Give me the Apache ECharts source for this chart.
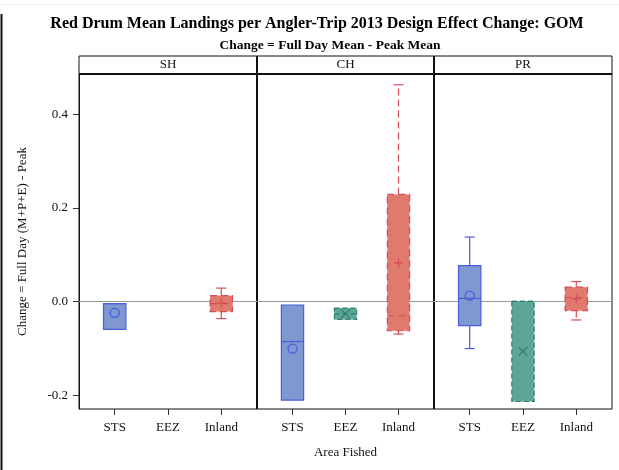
<!DOCTYPE html>
<html>
<head>
<meta charset="utf-8">
<script src="https://cdn.jsdelivr.net/npm/echarts@6/dist/echarts.min.js"></script>
<style>html,body{margin:0;padding:0;background:#fff;}#c{width:619px;height:470px;}</style>
</head>
<body>
<div id="c"></div>
<script>
const panels = ['SH', 'CH', 'PR'];
const categories = ['STS', 'EEZ', 'Inland'];
const yTicks = [-0.2, 0.0, 0.2, 0.4];

// per area, values indexed by panel [SH, CH, PR]
const stsLow    = [null, null, -0.100];
const stsQ1     = [-0.059, -0.210, -0.051];
const stsMedian = [-0.004, -0.085, 0.007];
const stsQ3     = [-0.004, -0.007, 0.077];
const stsHigh   = [null, null, 0.138];
const stsMean   = [-0.024, -0.100, 0.013];

const eezLow    = [null, null, null];
const eezQ1     = [null, -0.038, -0.213];
const eezMedian = [null, -0.026, 0.001];
const eezQ3     = [null, -0.0135, 0.001];
const eezHigh   = [null, null, null];
const eezMean   = [null, -0.026, -0.106];

const inlLow    = [-0.036, -0.069, -0.039];
const inlQ1     = [-0.021, -0.062, -0.019];
const inlMedian = [-0.004, -0.030, 0.009];
const inlQ3     = [0.013, 0.229, 0.031];
const inlHigh   = [0.029, 0.463, 0.043];
const inlMean   = [-0.003, 0.083, 0.006];

const FONT = '"Liberation Serif", "DejaVu Serif", serif';
const styles = [
  {fill: '#7f98cf', stroke: '#4a5ce0', dash: 'solid', marker: 'circle'},
  {fill: '#5da695', stroke: '#2e7f6e', dash: [5, 3], marker: 'x'},
  {fill: '#e07a6c', stroke: '#d34c57', dash: [7, 4], marker: 'plus'}
];

const areaSets = [
  [stsLow, stsQ1, stsMedian, stsQ3, stsHigh, stsMean],
  [eezLow, eezQ1, eezMedian, eezQ3, eezHigh, eezMean],
  [inlLow, inlQ1, inlMedian, inlQ3, inlHigh, inlMean]
];

function panelData(p) {
  const out = [];
  areaSets.forEach((set, a) => {
    if (set[1][p] === null) return;
    out.push([a].concat(set.map(arr => arr[p] === null ? NaN : arr[p])));
  });
  return out;
}

function renderItem(params, api) {
  const a = api.value(0);
  const st = styles[a];
  const low = api.value(1), q1 = api.value(2), med = api.value(3), q3 = api.value(4), high = api.value(5), mean = api.value(6);
  const bw = api.size([1, 0])[0] * 0.42;
  const cx = api.coord([a, 0])[0];
  const yq1 = api.coord([a, q1])[1];
  const yq3 = api.coord([a, q3])[1];
  const ymed = api.coord([a, med])[1];
  const lineStyle = {stroke: st.stroke, lineWidth: 1.2, lineDash: st.dash, fill: null};
  const children = [];
  const capW = 10;
  if (!isNaN(high)) {
    const yh = api.coord([a, high])[1];
    children.push({type: 'line', shape: {x1: cx, y1: yq3, x2: cx, y2: yh}, style: lineStyle});
    children.push({type: 'line', shape: {x1: cx - capW / 2, y1: yh, x2: cx + capW / 2, y2: yh}, style: {stroke: st.stroke, lineWidth: 1.2}});
  }
  if (!isNaN(low)) {
    const yl = api.coord([a, low])[1];
    children.push({type: 'line', shape: {x1: cx, y1: yq1, x2: cx, y2: yl}, style: lineStyle});
    children.push({type: 'line', shape: {x1: cx - capW / 2, y1: yl, x2: cx + capW / 2, y2: yl}, style: {stroke: st.stroke, lineWidth: 1.2}});
  }
  const top = Math.min(yq1, yq3), h = Math.max(Math.abs(yq1 - yq3), 1);
  children.push({type: 'rect', shape: {x: cx - bw / 2, y: top, width: bw, height: h},
    style: {fill: st.fill, stroke: st.stroke, lineWidth: 1.2, lineDash: st.dash}});
  children.push({type: 'line', shape: {x1: cx - bw / 2, y1: ymed, x2: cx + bw / 2, y2: ymed}, style: lineStyle});
  if (!isNaN(mean)) {
    const ym = api.coord([a, mean])[1];
    const r = 4.5;
    const ms = {stroke: st.stroke, lineWidth: 1.3, fill: null};
    if (st.marker === 'circle') {
      children.push({type: 'circle', shape: {cx: cx, cy: ym, r: r}, style: ms});
    } else if (st.marker === 'x') {
      children.push({type: 'line', shape: {x1: cx - r, y1: ym - r, x2: cx + r, y2: ym + r}, style: ms});
      children.push({type: 'line', shape: {x1: cx - r, y1: ym + r, x2: cx + r, y2: ym - r}, style: ms});
    } else {
      children.push({type: 'line', shape: {x1: cx - r, y1: ym, x2: cx + r, y2: ym}, style: ms});
      children.push({type: 'line', shape: {x1: cx, y1: ym - r, x2: cx, y2: ym + r}, style: ms});
    }
  }
  return {type: 'group', children: children};
}

const gridLefts = [79, 257, 434];
const gridWidths = [178, 177, 178];
const yMin = -0.229, yMax = 0.486;
const xMin = -0.67, xMax = 2.67;

const option = {
  animation: false,
  backgroundColor: '#fff',
  title: [
    {text: 'Red Drum Mean Landings per Angler-Trip 2013 Design Effect Change: GOM', left: 312, top: 11, textAlign: 'center',
      textStyle: {fontFamily: FONT, fontSize: 16, fontWeight: 'bold', color: '#000'}},
    {text: 'Change = Full Day Mean - Peak Mean', left: 325, top: 34, textAlign: 'center',
      textStyle: {fontFamily: FONT, fontSize: 13.5, fontWeight: 'bold', color: '#000'}}
  ],
  grid: panels.map((p, i) => ({left: gridLefts[i], width: gridWidths[i], top: 74, bottom: 61,
    show: true, borderColor: '#111', borderWidth: 1, backgroundColor: 'transparent'})),
  xAxis: panels.map((p, i) => ({
    type: 'value', gridIndex: i, min: xMin, max: xMax,
    axisLine: {show: false, onZero: false},
    axisTick: {show: true, length: 6, customValues: [0, 1, 2], lineStyle: {color: '#333'}},
    axisLabel: {fontFamily: FONT, fontSize: 13, color: '#111', margin: 12, customValues: [0, 1, 2],
      formatter: v => categories[Math.round(v)]},
    splitLine: {show: false},
    name: i === 1 ? 'Area Fished' : '', nameLocation: 'middle', nameGap: 37,
    nameTextStyle: {fontFamily: FONT, fontSize: 13, color: '#111'}
  })),
  yAxis: panels.map((p, i) => ({
    type: 'value', gridIndex: i, min: yMin, max: yMax,
    axisLine: {show: i === 0, onZero: false, lineStyle: {color: '#111'}},
    axisTick: {show: i === 0, length: 6, customValues: yTicks, lineStyle: {color: '#333'}},
    axisLabel: {show: i === 0, customValues: yTicks, fontFamily: FONT, fontSize: 13, color: '#111', margin: 11,
      formatter: v => v.toFixed(1)},
    splitLine: {show: false},
    name: i === 0 ? 'Change = Full Day (M+P+E) - Peak' : '', nameLocation: 'middle', nameGap: 50,
    nameTextStyle: {fontFamily: FONT, fontSize: 13, color: '#111'}
  })),
  series: panels.map((p, i) => ({
    type: 'custom', xAxisIndex: i, yAxisIndex: i,
    renderItem: renderItem,
    encode: {x: 0, y: [1, 2, 3, 4, 5, 6]},
    data: panelData(i),
    z: 3,
    markLine: {silent: true, symbol: 'none', label: {show: false}, z: 2,
      lineStyle: {color: '#999', type: 'solid', width: 1}, data: [{yAxis: 0}]}
  })),
  graphic: [
    {type: 'line', shape: {x1: 1.5, y1: 14, x2: 1.5, y2: 470}, style: {stroke: '#111', lineWidth: 2}},
    {type: 'line', shape: {x1: 0, y1: 4.5, x2: 619, y2: 4.5}, style: {stroke: '#eee', lineWidth: 1}}
  ].concat(panels.map((p, i) => ({
    type: 'group', children: [
      {type: 'rect', shape: {x: gridLefts[i], y: 56, width: gridWidths[i], height: 18},
        style: {fill: '#fff', stroke: '#111', lineWidth: 1}},
      {type: 'text', x: gridLefts[i] + gridWidths[i] / 2, y: 65,
        style: {text: p, font: '13px ' + FONT, fill: '#111', align: 'center', verticalAlign: 'middle'}}
    ]
  }))).concat([
    {type: 'line', shape: {x1: 79, y1: 74, x2: 612, y2: 74}, style: {stroke: '#111', lineWidth: 2}},
    {type: 'line', shape: {x1: 257, y1: 56, x2: 257, y2: 409}, style: {stroke: '#111', lineWidth: 2}},
    {type: 'line', shape: {x1: 434, y1: 56, x2: 434, y2: 409}, style: {stroke: '#111', lineWidth: 2}}
  ])
};

const chart = echarts.init(document.getElementById('c'), null, {renderer: 'canvas'});
chart.setOption(option);
</script>
</body>
</html>
